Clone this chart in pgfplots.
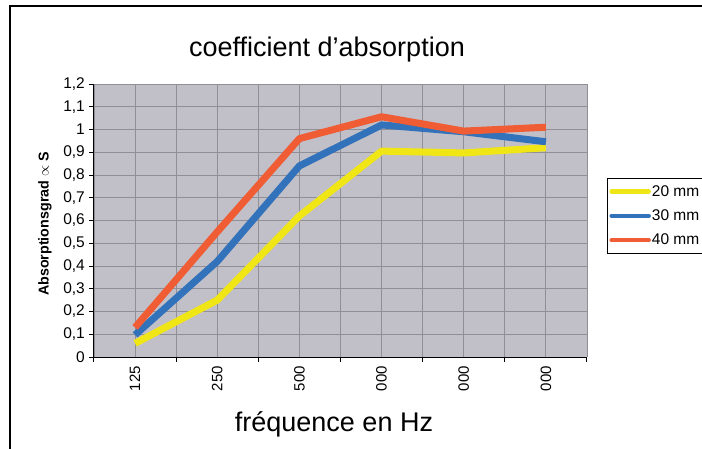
\documentclass[border=0pt]{standalone}
\usepackage{fontspec}
\setmainfont{Liberation Sans}
\usepackage{pgfplots}
\pgfplotsset{compat=1.18}
\definecolor{cyel}{RGB}{240,230,22}
\definecolor{cblue}{RGB}{50,114,186}
\definecolor{cred}{RGB}{240,92,52}
\definecolor{plotbg}{RGB}{193,191,199}
\definecolor{gridc}{RGB}{145,143,150}
\begin{document}
\begin{tikzpicture}[x=1pt,y=1pt]
\path[use as bounding box, clip] (0,0) rectangle (702,448);
\draw[line width=1.6pt] (10,442) rectangle (730,-30);
\begin{axis}[
  at={(94pt,91pt)}, anchor=south west,
  scale only axis, width=493pt, height=273pt,
  xmin=-0.5, xmax=5.5, ymin=0, ymax=1.2,
  axis background/.style={fill=plotbg},
  axis x line*=bottom, axis y line*=left,
  axis line style={black, line width=1pt},
  xtick={-0.5,0.5,1.5,2.5,3.5,4.5,5.5},
  xticklabels={125,250,500,000,000,000},
  x tick label as interval,
  minor xtick={0,1,2,3,4,5},
  ytick={0,0.1,...,1.21},
  grid=both,
  major grid style={gridc, line width=0.9pt},
  minor grid style={gridc, line width=0.9pt},
  tick style={black, line width=1pt},
  major tick length=5pt, minor tick length=0pt,
  tick align=outside,
  xticklabel style={rotate=90, anchor=east, font=\fontsize{15}{17}\selectfont, inner xsep=4pt},
  yticklabel style={font=\fontsize{15.5}{17}\selectfont, inner xsep=4pt},
  /pgf/number format/.cd, use comma, fixed, precision=1, assume math mode=true,
  /pgfplots/.cd,
  legend style={at={(1.0406,0.6557)}, anchor=north west, draw=black, line width=0.8pt,
    font=\fontsize{15.5}{17}\selectfont, inner xsep=2pt, inner ysep=6pt, row sep=10pt,
    nodes={inner sep=1pt}},
  legend cell align=left,
  legend image code/.code={\draw[#1, line cap=round, line width=4.5pt] (0pt,0pt) -- (37pt,0pt);},
  clip=false,
]
\addplot[cyel, line width=7pt, line join=round] coordinates {(0,0.06) (1,0.25) (2,0.62) (3,0.905) (4,0.897) (5,0.92)};
\addlegendentry{20 mm}
\addplot[cblue, line width=7pt, line join=round] coordinates {(0,0.097) (1,0.42) (2,0.84) (3,1.02) (4,0.99) (5,0.946)};
\addlegendentry{30 mm}
\addplot[cred, line width=7pt, line join=round] coordinates {(0,0.13) (1,0.55) (2,0.96) (3,1.056) (4,0.993) (5,1.01)};
\addlegendentry{40 mm}
\end{axis}
\node[font=\fontsize{27}{30}\selectfont] at (327,398) {coefficient d’absorption};
\node[font=\fontsize{27}{30}\selectfont] at (334,24) {fréquence en Hz};
\node[rotate=90, font=\bfseries\fontsize{14.3}{16}\selectfont] at (45,224) {Absorptionsgrad $\propto$ S};
\end{tikzpicture}
\end{document}
